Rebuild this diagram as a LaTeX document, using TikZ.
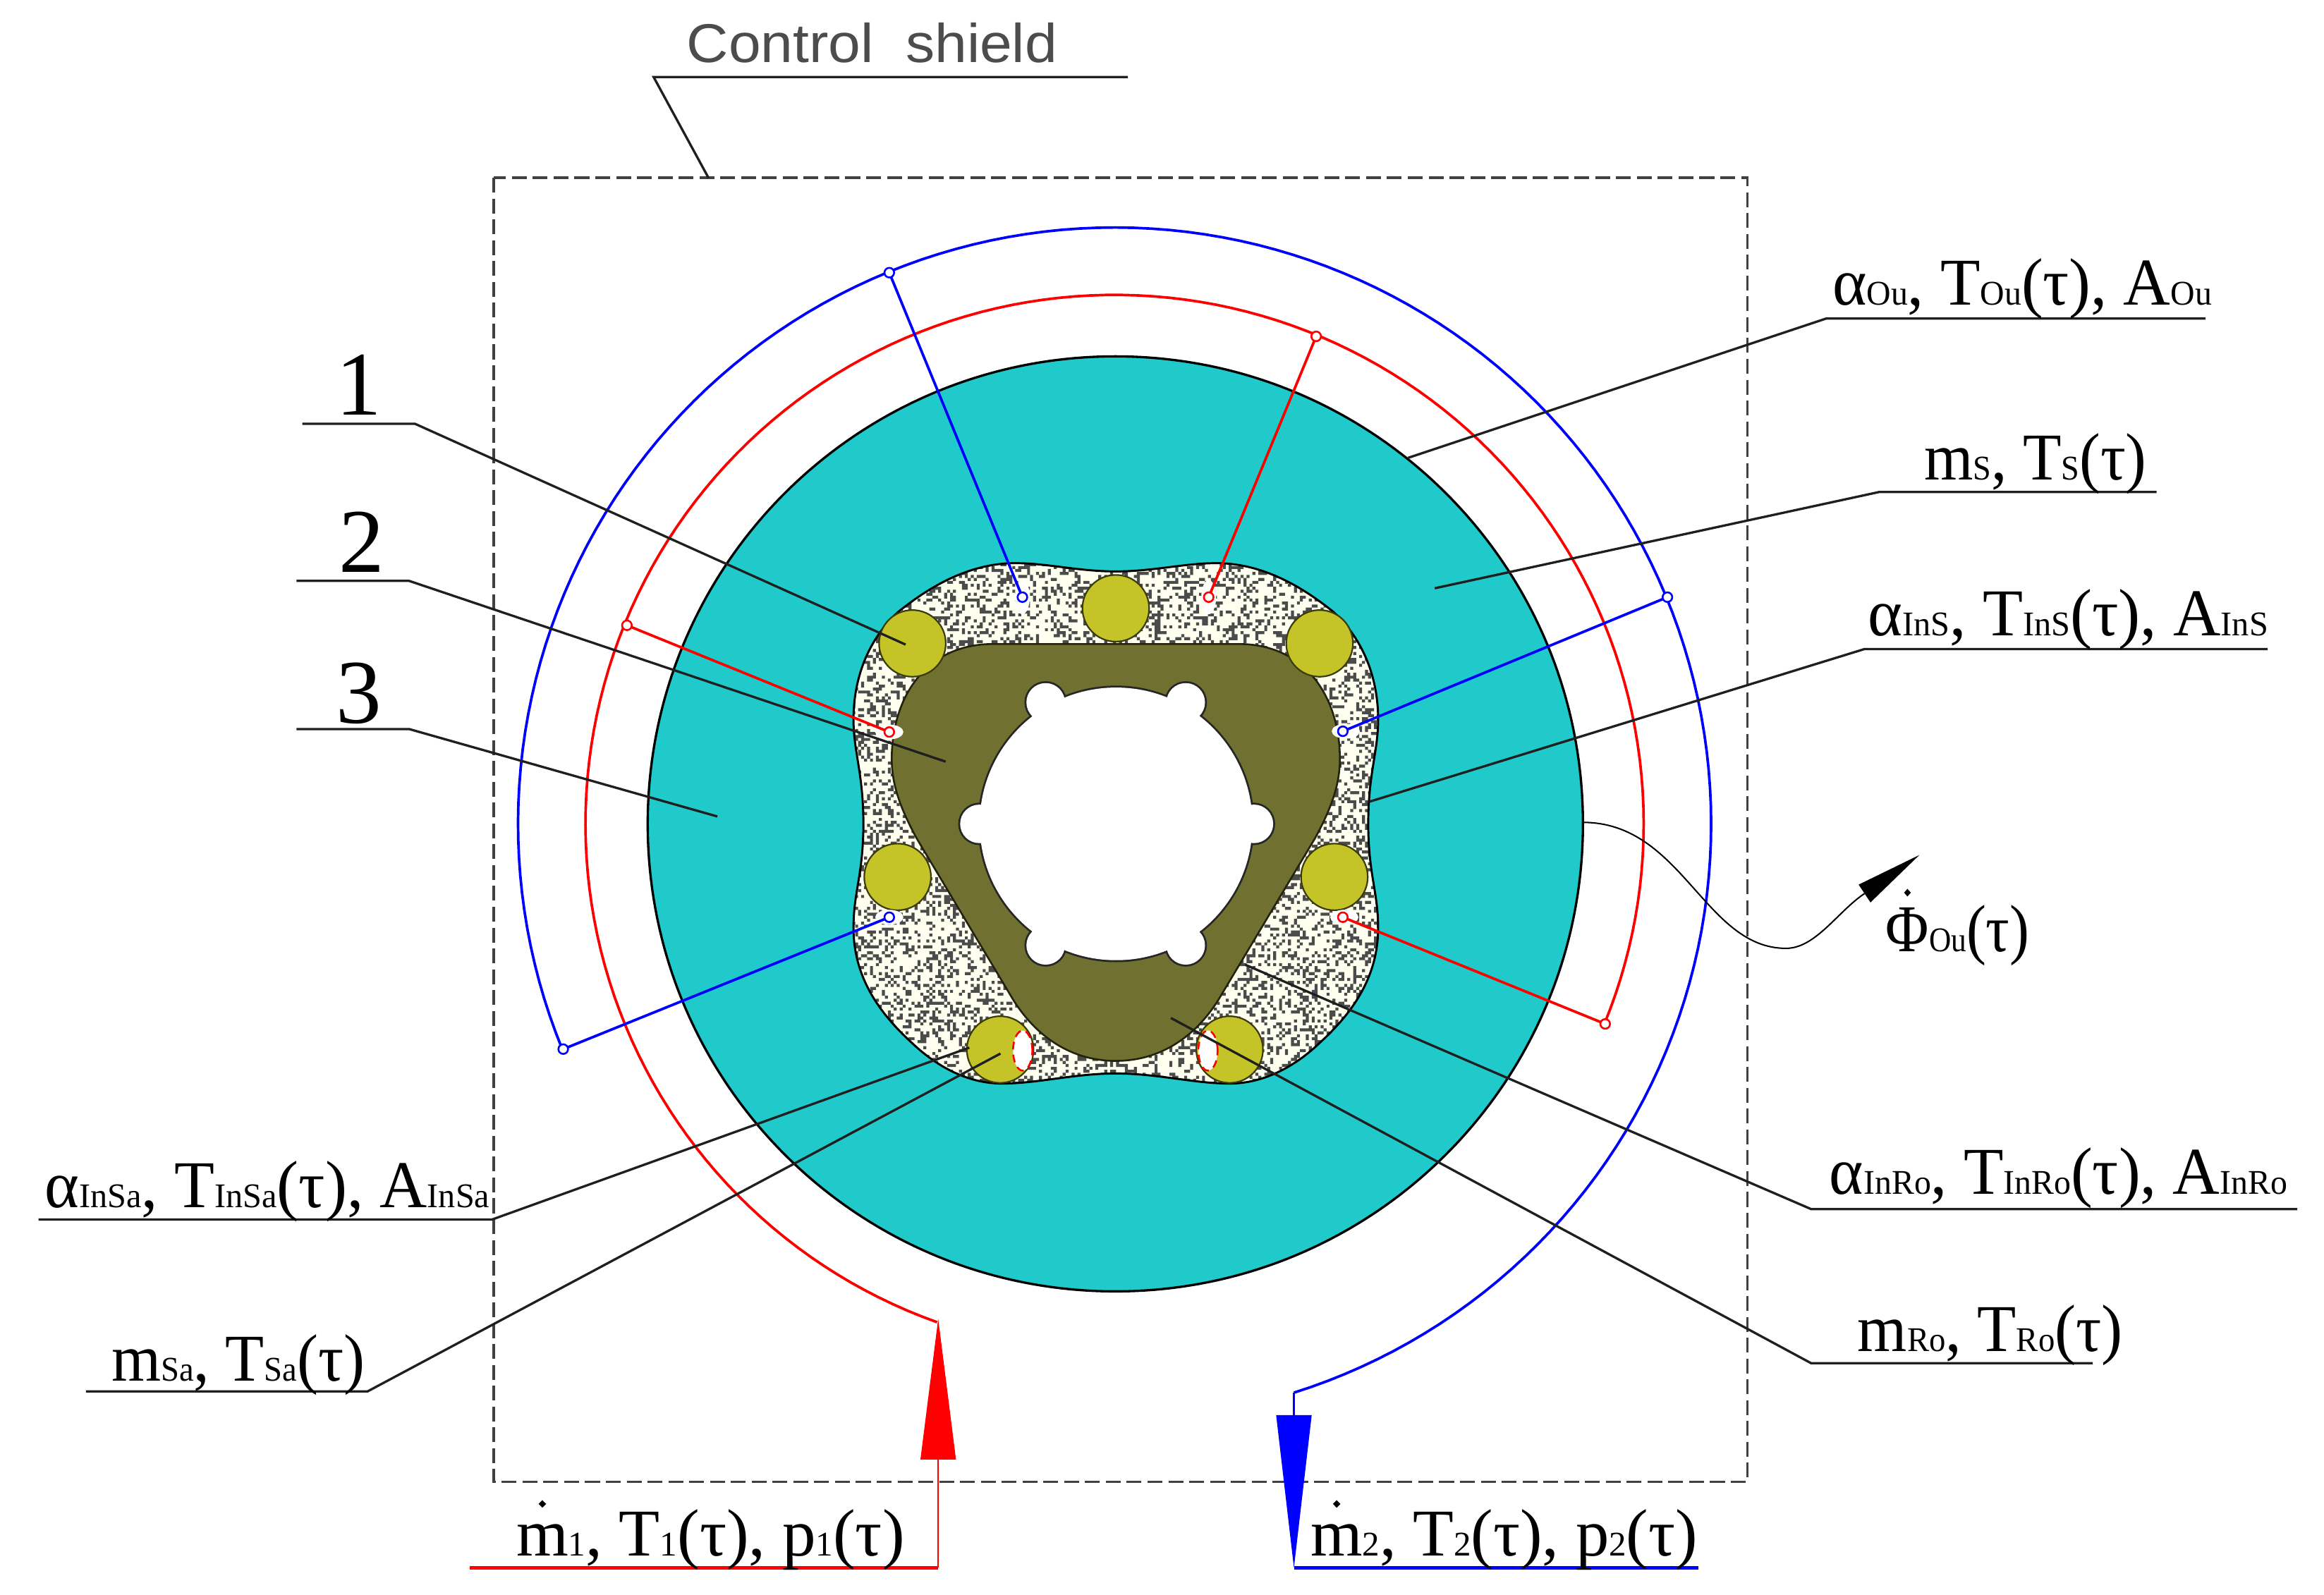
\documentclass[tikz,border=0pt]{standalone}
\usepackage{graphicx}
\usepackage{fontspec}
\usetikzlibrary{shapes.geometric}
\setmainfont{Liberation Serif}
\newfontfamily\ctrlfont{Liberation Sans}
\definecolor{disk}{RGB}{32,202,202}
\definecolor{rotor}{RGB}{112,112,48}
\definecolor{roller}{RGB}{196,196,40}
\definecolor{insul}{RGB}{255,255,240}
\definecolor{speck}{RGB}{75,75,75}
\newdimen\dunit \dunit=0.02cm
\newdimen\spkcell \spkcell=2\dunit
\newcount\spkR \newcount\spkQ \newcount\spkX \newcount\spkY
\newcommand\speckle{%
  \spkR=4711 \spkX=0 \spkY=0
  \loop
    \spkR=\numexpr\spkR*25173+13849\relax
    \spkQ=\spkR \divide\spkQ 65536 \multiply\spkQ 65536 \advance\spkR-\spkQ
    \spkQ=\spkR \divide\spkQ 256
    \ifnum\spkQ<76
      \pgfpathrectangle{\pgfqpoint{\the\dimexpr 27.7\dunit+\spkcell*\spkX\relax}{\the\dimexpr -21\dunit-\spkcell*\spkY\relax}}{\pgfqpoint{\spkcell}{\spkcell}}%
    \fi
    \advance\spkX 1
    \ifnum\spkX>180 \spkX=0 \advance\spkY 1 \fi
  \ifnum\spkY<182 \repeat
}
\newcommand\ssc[1]{{\fontsize{13.3}{14}\selectfont #1}}
\newcommand\ddt[2][.72em]{\ooalign{#2\cr\hidewidth\raisebox{#1}{\rotatebox{45}{\rule{.08em}{.08em}}}\hidewidth\cr}}
\newcommand\lab[5]{\node[lbl] (#1) at (#2,#3) {\resizebox{#4\dunit}{\height}{#5}};}
\newcommand\leader[7]{\coordinate (#1a) at (#2,#3); \coordinate (#1b) at (#4,#5); \coordinate (#1c) at (#6,#7); \draw[ldr] (#1a) -- (#1b) -- (#1c);}
\tikzset{
  lbl/.style={anchor=base west,inner sep=0pt,font=\fontsize{25.7}{30}\selectfont},
  digit/.style={anchor=base,inner sep=0pt,font=\fontsize{35}{40}\selectfont},
  ldr/.style={draw=black!88,line width=.9pt},
  redl/.style={draw=red,line width=1pt},
  bluel/.style={draw=blue,line width=1pt},
  redc/.style={draw=red,line width=.7pt,fill=white},
  bluec/.style={draw=blue,line width=.7pt,fill=white},
  rollerc/.style={fill=roller,draw=black!70!roller,line width=.6pt},
  slot/.style={fill=white,draw=none}
}
\def\insulshape{(677,118) .. controls (760,118) and (830,95) .. (900,95)
 .. controls (1010,95) and (1100,170) .. (1160,230)
 .. controls (1230,310) and (1260,420) .. (1260,530)
 .. controls (1260,620) and (1238,680) .. (1238,820)
 .. controls (1238,960) and (1260,1010) .. (1260,1110)
 .. controls (1260,1250) and (1200,1350) .. (1130,1430)
 .. controls (1080,1490) and (1010,1543) .. (930,1543)
 .. controls (850,1543) and (770,1515) .. (677,1515)
 .. controls (584,1515) and (504,1543) .. (424,1543)
 .. controls (344,1543) and (274,1490) .. (224,1430)
 .. controls (154,1350) and (94,1250) .. (94,1110)
 .. controls (94,1010) and (116,960) .. (116,820)
 .. controls (116,680) and (94,620) .. (94,530)
 .. controls (94,420) and (124,310) .. (194,230)
 .. controls (254,170) and (344,95) .. (454,95)
 .. controls (524,95) and (594,118) .. (677,118) -- cycle}
\def\rotorshape{(404,320) -- (950,320) .. controls (1100,320) and (1175,470) .. (1175,640)
 .. controls (1175,720) and (1150,790) .. (1120,860) -- (905,1310)
 .. controls (850,1420) and (770,1480) .. (677,1480)
 .. controls (584,1480) and (504,1420) .. (449,1310) -- (234,860)
 .. controls (204,790) and (179,720) .. (179,640)
 .. controls (179,470) and (254,320) .. (404,320) -- cycle}
\def\holeshape{(753,556) circle (92) (660.8,556) circle (13) (846,556) circle (13) (705.5,474) circle (13) (800,474) circle (13) (705.5,638) circle (13) (800,638) circle (13)}
\begin{document}
\begin{tikzpicture}[x=0.02cm,y=-0.02cm]
\useasboundingbox (0,0) rectangle (1568,1076);
\fill[white] (0,0) rectangle (1568,1076);
% disk
\node[circle,fill=disk,draw=black,line width=.9pt,minimum size=631*0.02cm,inner sep=0pt] (disk) at (752.5,556) {};
% insulation and rotor
\begin{scope}[shift={(547.3,357)},x=.00607cm,y=-.004856cm]
  \fill[insul] \insulshape;
  \begin{scope}
    \clip \insulshape;
    \pgfsetfillcolor{speck}
    \speckle
    \pgfusepath{fill}
  \end{scope}
  \draw[black,line width=.8pt] \insulshape;
  \fill[rotor,draw=black!70!rotor,line width=.7pt] \rotorshape;
\end{scope}
% rollers
\foreach \n/\a/\b in {ra/752.8/410.5,rb/615.6/434.2,rc/890.3/434.2,rd/605.6/591.8,re/900.3/591.8,rf/674.8/708.3,rg/829.6/708.3}
  \node[circle,rollerc,minimum size=45*0.02cm,inner sep=0pt] (\n) at (\a,\b) {};
% bore
\draw[black!85,line width=1.5pt] \holeshape;
\fill[white] \holeshape;
% bearing-side holes in the lower rollers
\node[ellipse,draw=red,densely dashed,line width=.7pt,fill=white,minimum width=13*0.02cm,minimum height=27*0.02cm,inner sep=0pt] (ha) at (690,709) {};
\node[ellipse,draw=red,densely dashed,line width=.7pt,fill=white,minimum width=13*0.02cm,minimum height=27*0.02cm,inner sep=0pt] (hb) at (815,709) {};
% sensor slots
\foreach \n/\a/\b/\w/\h in {sa/689.8/403/10/23,sb/815.5/403/10/23,sc/600/494/19/10,sd/908/493.5/19/10,se/600/619/19/10,sf/907/619/19/10}
  \node[ellipse,slot,minimum width=\w*0.02cm,minimum height=\h*0.02cm,inner sep=0pt] (\n) at (\a,\b) {};
% control shield
\coordinate (csa) at (333,120); \coordinate (csb) at (1179,1000);
\draw[black!75,line width=.95pt,dash pattern=on 5.7pt off 2.3pt] (csa) rectangle (csb);
% red circuit
\coordinate (rs) at (633,890);
\coordinate (rbase) at (633,985);
\coordinate (rcorner) at (633,1058);
\coordinate (rend) at (317,1058);
\draw[redl] plot[domain=109.6:382.2,samples=160] ({752+357*cos(\x)},{556+357*sin(\x)});
\fill[red] (rs) -- (645,985) -- (621,985) -- cycle;
\draw[draw=red,line width=.6pt] (rbase) -- (rcorner);
\draw[draw=red,line width=1.2pt] (rcorner) -- (rend);
% blue circuit
\coordinate (bs) at (873,940);
\coordinate (btop) at (873,955);
\coordinate (bcorner) at (873,1058);
\coordinate (bend) at (1146,1058);
\draw[bluel] plot[domain=157.8:432.5,samples=160] ({752+402.5*cos(\x)},{556+402.5*sin(\x)});
\draw[draw=blue,line width=.6pt] (bs) -- (btop);
\fill[blue] (861,955) -- (885,955) -- (bcorner) -- cycle;
\draw[draw=blue,line width=1.2pt] (bcorner) -- (bend);
% sensors and their taps
\foreach \n/\a/\b/\c/\d in {t1/888/227/815.5/403,t2/423/422/600/494,t3/1083/691/906/619}{
  \coordinate (\n a) at (\a,\b); \coordinate (\n b) at (\c,\d);
  \draw[redl] (\n a) -- (\n b);
  \node[circle,redc,minimum size=6.5*0.02cm,inner sep=0pt] (\n x) at (\n a) {};
  \node[circle,redc,minimum size=6.5*0.02cm,inner sep=0pt] (\n y) at (\n b) {};
}
\foreach \n/\a/\b/\c/\d in {u1/600/184/689.8/403,u2/1125/403/906/493.5,u3/380/708/600/619}{
  \coordinate (\n a) at (\a,\b); \coordinate (\n b) at (\c,\d);
  \draw[bluel] (\n a) -- (\n b);
  \node[circle,bluec,minimum size=6.5*0.02cm,inner sep=0pt] (\n x) at (\n a) {};
  \node[circle,bluec,minimum size=6.5*0.02cm,inner sep=0pt] (\n y) at (\n b) {};
}
% leaders
\leader{la}{204}{286}{280}{286}{611}{435}
\leader{lb}{200}{392}{276}{392}{638}{514}
\leader{lc}{200}{492}{276}{492}{484}{551}
\leader{ld}{1488}{215}{1232}{215}{950}{309}
\leader{le}{1455}{332}{1268}{332}{968}{397}
\leader{lf}{1530}{438}{1258}{438}{924}{541}
\leader{lg}{1550}{816}{1222}{816}{840}{651}
\leader{lh}{1412}{920}{1222}{920}{790}{687}
\leader{li}{26}{823}{332}{823}{654}{707}
\leader{lj}{58}{939}{248}{939}{675}{711}
\coordinate (csl) at (761,52); \coordinate (csm) at (441,52); \coordinate (csn) at (478,120);
\draw[ldr] (csl) -- (csm) -- (csn);
% heat flux
\coordinate (fa) at (1068,555); \coordinate (fb) at (1205,640); \coordinate (fc) at (1258,603); \coordinate (fd) at (1295,577);
\draw[black,line width=.55pt] (fa) .. controls (1135,555) and (1150,640) .. (fb) .. controls (1225,640) and (1240,615) .. (fc);
\fill[black] (fd) -- (1262,609) -- (1254,597) -- cycle;
% labels
\node[digit] (n1) at (242,280) {1};
\node[digit] (n2) at (244,386) {2};
\node[digit] (n3) at (242,488) {3};
\lab{tcs}{463}{42}{250}{\ctrlfont\fontsize{21}{24}\selectfont\color{black!70}Control\ \ shield}
\lab{tou}{1236}{206}{256}{α\ssc{Ou}, T\ssc{Ou}(τ), A\ssc{Ou}}
\lab{tms}{1298}{324}{150}{m\ssc{S}, T\ssc{S}(τ)}
\lab{tin}{1260}{429}{270}{α\ssc{InS}, T\ssc{InS}(τ), A\ssc{InS}}
\lab{trr}{1234}{806}{309}{α\ssc{InRo}, T\ssc{InRo}(τ), A\ssc{InRo}}
\lab{tmr}{1253}{912}{179}{m\ssc{Ro}, T\ssc{Ro}(τ)}
\lab{tsa}{30}{815}{300}{α\ssc{InSa}, T\ssc{InSa}(τ), A\ssc{InSa}}
\lab{tms2}{75}{932}{171}{m\ssc{Sa}, T\ssc{Sa}(τ)}
\lab{tm1}{348}{1050}{262}{\ddt{m}\ssc{1}, T\ssc{1}(τ), p\ssc{1}(τ)}
\lab{tm2}{884}{1050}{261}{\ddt{m}\ssc{2}, T\ssc{2}(τ), p\ssc{2}(τ)}
\lab{tph}{1272}{642}{97}{\ddt[.82em]{Φ}\ssc{Ou}(τ)}
\end{tikzpicture}
\end{document}
